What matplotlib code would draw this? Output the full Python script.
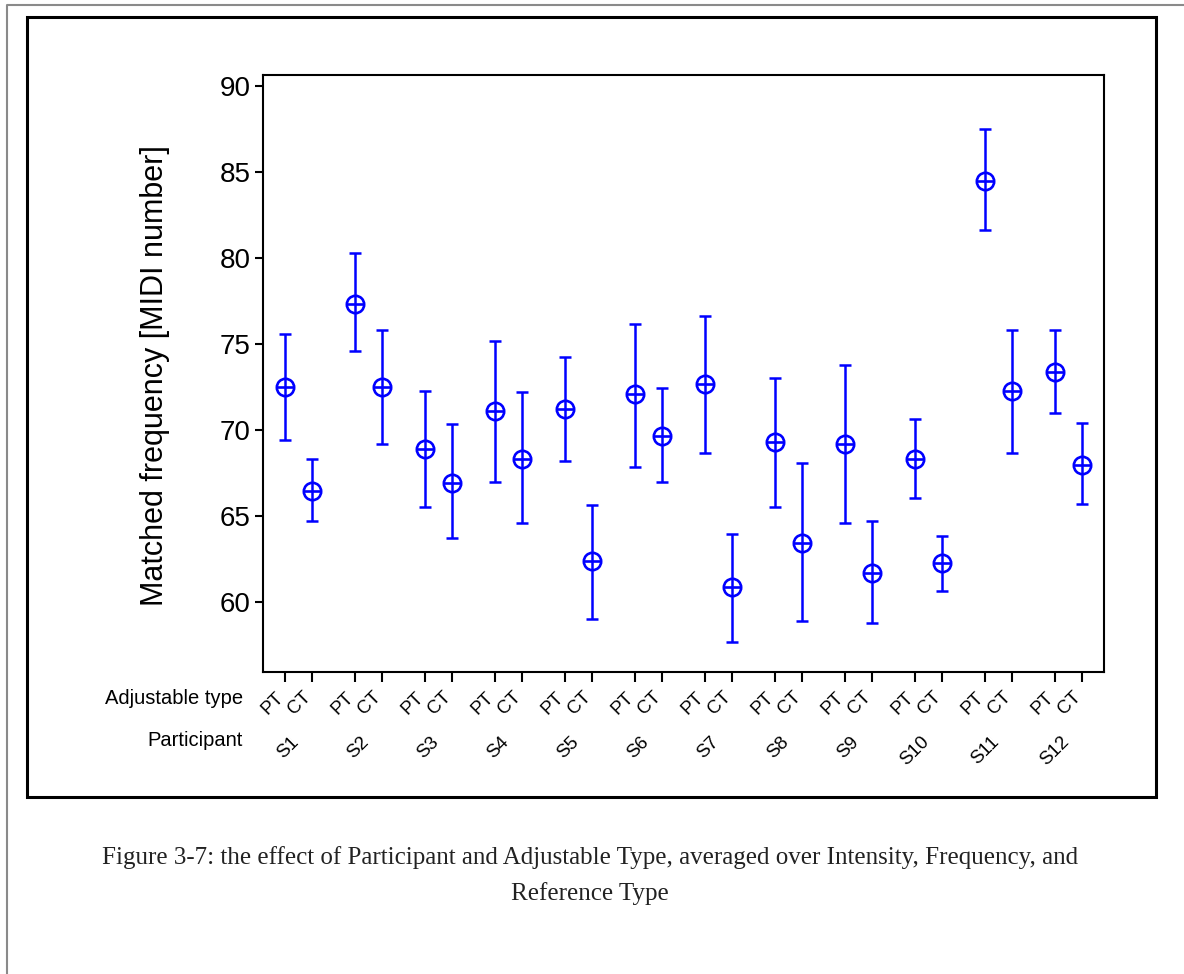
import matplotlib
matplotlib.use("Agg")
import matplotlib.pyplot as plt
from matplotlib.lines import Line2D
from matplotlib.patches import Rectangle
import numpy as np

# Per-participant means and error-bar limits (MIDI number)
participants = ["S1", "S2", "S3", "S4", "S5", "S6", "S7", "S8", "S9", "S10", "S11", "S12"]
adjustable_types = ["PT", "CT"]

pt_mean = [72.54, 77.36, 68.90, 71.14, 71.24, 72.10, 72.68, 69.30, 69.20, 68.34, 84.45, 73.40]
pt_upper = [75.56, 80.30, 72.30, 75.20, 74.26, 76.18, 76.66, 73.04, 73.76, 70.64, 87.50, 75.84]
pt_lower = [69.42, 74.60, 65.54, 67.00, 68.20, 67.84, 68.70, 65.54, 64.60, 66.04, 81.60, 71.00]

ct_mean = [66.50, 72.54, 66.96, 68.34, 62.40, 69.68, 60.88, 63.48, 61.70, 62.28, 72.30, 68.00]
ct_upper = [68.34, 75.80, 70.38, 72.20, 65.68, 72.44, 64.00, 68.08, 64.72, 63.86, 75.84, 70.40]
ct_lower = [64.72, 69.18, 63.74, 64.60, 59.06, 67.00, 57.70, 58.94, 58.80, 60.64, 68.70, 65.70]

y_ticks = [60, 65, 70, 75, 80, 85, 90]

caption_line1 = ("Figure 3-7: the effect of Participant and Adjustable Type, averaged over "
                 "Intensity, Frequency, and")
caption_line2 = "Reference Type"

W, H = 1184, 974
SANS = ["Liberation Sans", "DejaVu Sans"]
SERIF = ["Liberation Serif", "DejaVu Serif"]
BLUE = "#0000ff"

fig = plt.figure(figsize=(W / 100, H / 100), dpi=100)
fig.patch.set_facecolor("white")


def fx(px):
    return px / W


def fy(py):
    return 1 - py / H


# page frame: thin grey margin line and the black figure box
fig.add_artist(Line2D([fx(7), fx(7), fx(W)], [fy(H), fy(5), fy(5)],
                      transform=fig.transFigure, color="#8a8a8a", lw=1.5))
fig.add_artist(Rectangle((fx(27), fy(797)), fx(1156) - fx(27), fy(17) - fy(797),
                         transform=fig.transFigure, fill=False, edgecolor="black", lw=2.2))

ax = fig.add_axes([fx(263), fy(672), fx(1104) - fx(263), fy(75) - fy(672)])

step = 2.6
groups = np.arange(len(participants))
x_pt = groups * step
x_ct = groups * step + 1.0

pt_mean_a = np.array(pt_mean)
ct_mean_a = np.array(ct_mean)
pt_err = [pt_mean_a - np.array(pt_lower), np.array(pt_upper) - pt_mean_a]
ct_err = [ct_mean_a - np.array(ct_lower), np.array(ct_upper) - ct_mean_a]

for xs, m, err in [(x_pt, pt_mean_a, pt_err), (x_ct, ct_mean_a, ct_err)]:
    ax.errorbar(xs, m, yerr=err, fmt="none", ecolor=BLUE, elinewidth=1.8,
                capsize=4.5, capthick=1.8, zorder=3)
    ax.plot(xs, m, "o", mfc="none", mec=BLUE, ms=12.5, mew=1.9, zorder=4)
    ax.plot(xs, m, "_", color=BLUE, ms=12.5, mew=1.9, zorder=4)

ax.set_xlim(-0.815, x_ct[-1] + 0.815)
ax.set_ylim(55.96, 90.63)

for s in ax.spines.values():
    s.set_linewidth(1.5)

ax.set_yticks(y_ticks)
ax.set_yticklabels([str(v) for v in y_ticks], fontsize=20, family=SANS)
ax.tick_params(axis="y", direction="out", length=6, width=1.5, pad=3)

xt = np.ravel(np.column_stack([x_pt, x_ct]))
ax.set_xticks(xt)
ax.set_xticklabels([])
ax.tick_params(axis="x", direction="out", length=7.5, width=1.5)

for xv, lab in zip(xt, adjustable_types * len(participants)):
    ax.annotate(lab, xy=(xv, 0), xycoords=("data", "axes fraction"),
                xytext=(-7, -12), textcoords="offset points",
                rotation=45, rotation_mode="anchor", ha="right", va="top",
                fontsize=13.5, family=SANS)

for xv, lab in zip((x_pt + x_ct) / 2, participants):
    ax.annotate(lab, xy=(xv, 0), xycoords=("data", "axes fraction"),
                xytext=(-6, -44), textcoords="offset points",
                rotation=45, rotation_mode="anchor", ha="right", va="top",
                fontsize=13.5, family=SANS)

fig.text(fx(243), fy(699), "Adjustable type", ha="right", va="center",
         fontsize=14.5, family=SANS)
fig.text(fx(243), fy(741), "Participant", ha="right", va="center",
         fontsize=14.5, family=SANS)

fig.text(fx(155), fy(376), "Matched frequency [MIDI number]", rotation=90,
         ha="center", va="center", fontsize=22, family=SANS)

fig.text(fx(590), fy(858), caption_line1, ha="center", va="center",
         fontsize=18, family=SERIF, color="#222222")
fig.text(fx(590), fy(894), caption_line2, ha="center", va="center",
         fontsize=18, family=SERIF, color="#222222")

fig.savefig("out.png", dpi=100)
